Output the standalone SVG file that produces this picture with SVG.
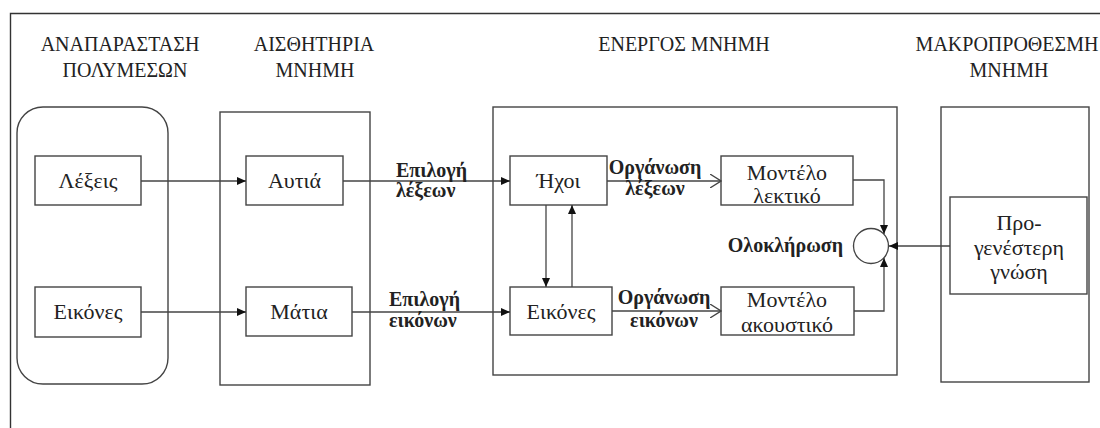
<svg xmlns="http://www.w3.org/2000/svg" width="1100" height="428" viewBox="0 0 1100 428">
<defs>
<marker id="tri" markerUnits="userSpaceOnUse" markerWidth="10" markerHeight="8" refX="9" refY="4" orient="auto">
<path d="M0,0 L9,4 L0,8 z" fill="#111"/>
</marker>
<marker id="chev" markerUnits="userSpaceOnUse" markerWidth="12" markerHeight="14" refX="11" refY="7" orient="auto">
<path d="M0,0 L11,7 L0,14" fill="none" stroke="#444" stroke-width="1.3"/>
</marker>
</defs>
<style>
.box{fill:#fff;stroke:#444;stroke-width:1.4}
.frame{fill:none;stroke:#333;stroke-width:1.4}
.c{fill:none;stroke:#444;stroke-width:1.3}
text{font-family:'Liberation Serif','Times New Roman',serif;fill:#222}
.t{font-size:20px;text-anchor:middle}
.n{font-size:22px;text-anchor:middle}
.b{font-size:20px;font-weight:bold}
.bm{font-size:20px;font-weight:bold;text-anchor:middle}
.be{font-size:20px;font-weight:bold;text-anchor:end}
</style>
<rect width="1100" height="428" fill="#fff"/>
<path class="frame" d="M10.5,428 V13.5 H1100"/>
<g id="titles">
<text class="t" x="120" y="51">ΑΝΑΠΑΡΑΣΤΑΣΗ</text>
<text class="t" x="125" y="77">ΠΟΛΥΜΕΣΩΝ</text>
<text class="t" x="314" y="51">ΑΙΣΘΗΤΗΡΙΑ</text>
<text class="t" x="315" y="77">ΜΝΗΜΗ</text>
<text class="t" x="684" y="51">ΕΝΕΡΓΟΣ ΜΝΗΜΗ</text>
<text class="t" x="1007" y="51">ΜΑΚΡΟΠΡΟΘΕΣΜΗ</text>
<text class="t" x="1009" y="77">ΜΝΗΜΗ</text>
</g>
<g id="multimedia"><rect class="box" x="17" y="107" width="151" height="277" rx="26" ry="26"/></g>
<g id="sensory"><rect class="box" x="220" y="112" width="150" height="273"/></g>
<g id="working"><rect class="box" x="493" y="107" width="404" height="268"/></g>
<g id="longterm"><rect class="box" x="941" y="107" width="148" height="275"/></g>
<g id="lexeis"><rect class="box" x="35" y="156" width="106" height="49"/><text class="n" x="88" y="188">Λέξεις</text></g>
<g id="eikones1"><rect class="box" x="35" y="287" width="106" height="50"/><text class="n" x="88" y="319">Εικόνες</text></g>
<g id="aftia"><rect class="box" x="246" y="156" width="97" height="49"/><text class="n" x="294.5" y="188">Αυτιά</text></g>
<g id="matia"><rect class="box" x="246" y="287" width="106" height="49"/><text class="n" x="299" y="319">Μάτια</text></g>
<g id="ixoi"><rect class="box" x="510" y="156" width="97" height="49"/><text class="n" x="558.5" y="188">Ήχοι</text></g>
<g id="eikones2"><rect class="box" x="510" y="287" width="102" height="48"/><text class="n" x="561" y="319">Εικόνες</text></g>
<g id="lektiko"><rect class="box" x="721" y="156" width="132" height="49"/><text class="n" x="787" y="180">Μοντέλο</text><text class="n" x="787" y="203">λεκτικό</text></g>
<g id="akoustiko"><rect class="box" x="721" y="287" width="133" height="48"/><text class="n" x="787" y="307">Μοντέλο</text><text class="n" x="787" y="332">ακουστικό</text></g>
<g id="prior"><rect class="box" x="950" y="197" width="137" height="97"/><text class="n" x="1019" y="230">Προ-</text><text class="n" x="1019" y="255">γενέστερη</text><text class="n" x="1019" y="279">γνώση</text></g>
<g id="integration"><circle class="box" cx="871" cy="246" r="17.5"/><text class="be" x="843" y="252">Ολοκλήρωση</text></g>
<g id="connectors">
<path class="c" d="M141,181 H246" marker-end="url(#tri)"/>
<path class="c" d="M141,312 H246" marker-end="url(#tri)"/>
<path class="c" d="M343,181 H510" marker-end="url(#tri)"/>
<path class="c" d="M352,312 H510" marker-end="url(#tri)"/>
<path class="c" d="M546,205 V287" marker-end="url(#tri)"/>
<path class="c" d="M572,287 V205" marker-end="url(#tri)"/>
<path class="c" d="M607,181 H721" marker-end="url(#chev)"/>
<path class="c" d="M612,311 H721" marker-end="url(#chev)"/>
<path class="c" d="M853,180 H884 V234" marker-end="url(#tri)"/>
<path class="c" d="M854,311 H884 V258" marker-end="url(#tri)"/>
<path class="c" d="M950,246 H889" marker-end="url(#tri)"/>
<text class="b" x="396" y="177">Επιλογή</text>
<text class="b" x="396" y="197">λέξεων</text>
<text class="b" x="389" y="306">Επιλογή</text>
<text class="b" x="389" y="327">εικόνων</text>
<text class="bm" x="655" y="174">Οργάνωση</text>
<text class="bm" x="655" y="195">λέξεων</text>
<text class="bm" x="664" y="304">Οργάνωση</text>
<text class="bm" x="664" y="327">εικόνων</text>
</g>
</svg>
